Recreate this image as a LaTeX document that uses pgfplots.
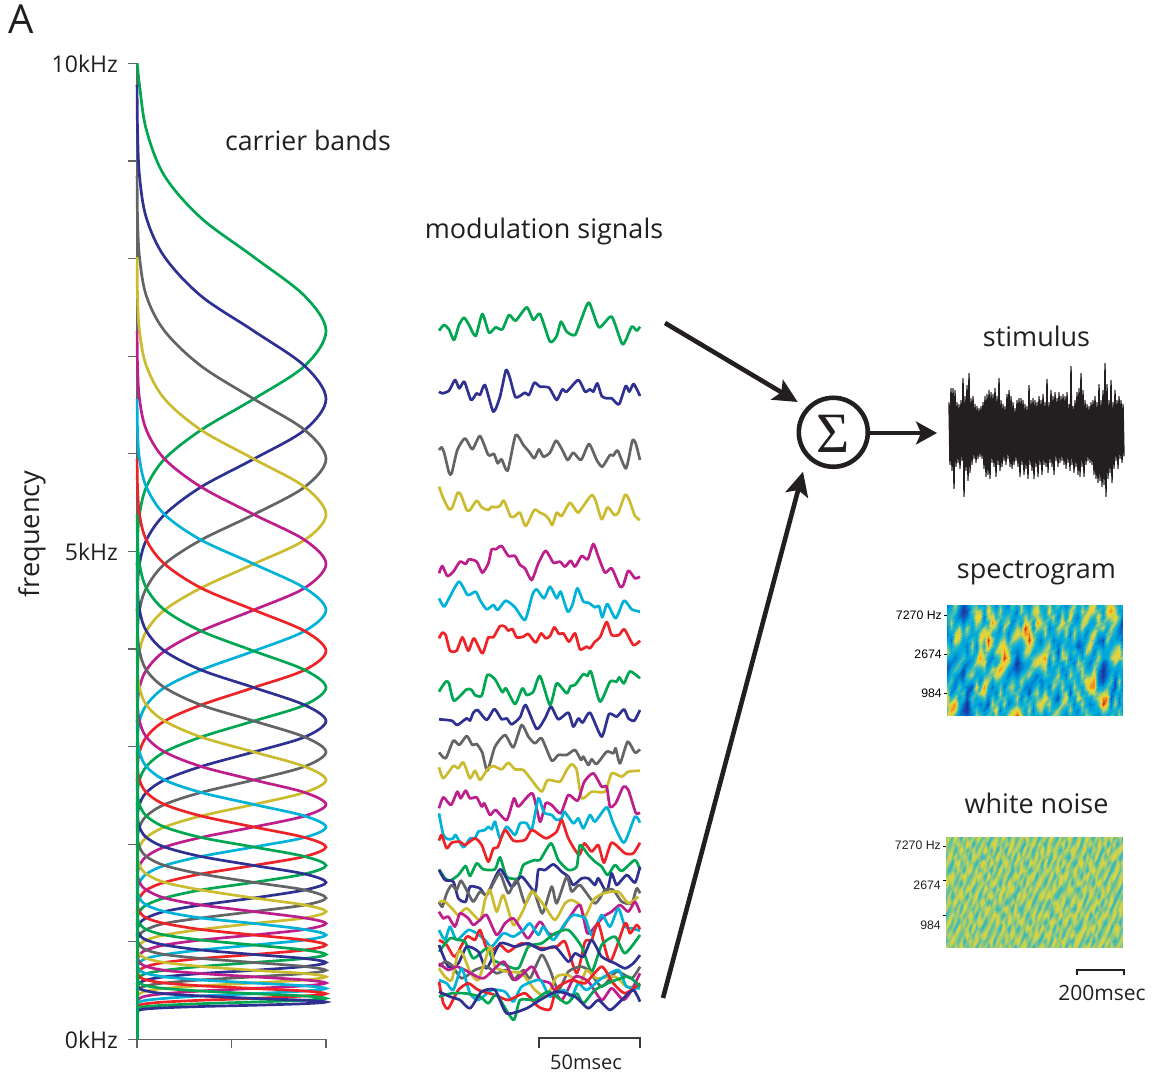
\documentclass[border=0pt]{standalone}
\usepackage{fontspec}
\usepackage{pgfplots}
\usepackage{pgfplotstable}
\pgfplotsset{compat=1.18}
\usetikzlibrary{arrows.meta}
\setmainfont{Open Sans}
\newfontfamily\hel{Liberation Sans}
\newfontfamily\lser{Liberation Serif}
\definecolor{bandg}{RGB}{0,166,81}
\definecolor{bandb}{RGB}{46,49,146}
\definecolor{bandy}{RGB}{99,100,102}
\definecolor{bandl}{RGB}{203,187,46}
\definecolor{bandm}{RGB}{190,30,140}
\definecolor{bandc}{RGB}{0,178,216}
\definecolor{bandr}{RGB}{238,35,40}
\definecolor{tx}{RGB}{35,31,32}
\pgfplotscreateplotcyclelist{bands}{{bandg},{bandb},{bandy},{bandl},{bandm},{bandc},{bandr}}
\pgfplotstableread{
.0005 10.000 9.780 8.847 8.017 7.259 6.563 5.948 5.379 4.872 4.401 3.980 3.606 3.263 2.946 2.659 2.408 2.177 1.972 1.783 1.610 1.450 1.311 1.189 1.071 .968 .871 .789 .709 .642 .579
.0028 9.97 9.319 8.417 7.618 6.901 6.245 5.661 5.118 4.626 4.185 3.786 3.427 3.099 2.797 2.531 2.290 2.070 1.875 1.696 1.532 1.378 1.245 1.127 1.019 .917 .830 .748 .676 .610 .550
.0132 9.780 8.847 8.017 7.259 6.563 5.948 5.379 4.872 4.401 3.980 3.606 3.263 2.946 2.659 2.408 2.177 1.972 1.783 1.610 1.450 1.311 1.189 1.071 .968 .871 .789 .709 .642 .579 .523
.0496 9.319 8.417 7.618 6.901 6.245 5.661 5.118 4.626 4.185 3.786 3.427 3.099 2.797 2.531 2.290 2.070 1.875 1.696 1.532 1.378 1.245 1.127 1.019 .917 .830 .748 .676 .610 .550 .497
.146 8.847 8.017 7.259 6.563 5.948 5.379 4.872 4.401 3.980 3.606 3.263 2.946 2.659 2.408 2.177 1.972 1.783 1.610 1.450 1.311 1.189 1.071 .968 .871 .789 .709 .642 .579 .523 .469
.339 8.417 7.618 6.901 6.245 5.661 5.118 4.626 4.185 3.786 3.427 3.099 2.797 2.531 2.290 2.070 1.875 1.696 1.532 1.378 1.245 1.127 1.019 .917 .830 .748 .676 .610 .550 .497 .446
.618 8.017 7.259 6.563 5.948 5.379 4.872 4.401 3.980 3.606 3.263 2.946 2.659 2.408 2.177 1.972 1.783 1.610 1.450 1.311 1.189 1.071 .968 .871 .789 .709 .642 .579 .523 .469 .421
.887 7.618 6.901 6.245 5.661 5.118 4.626 4.185 3.786 3.427 3.099 2.797 2.531 2.290 2.070 1.875 1.696 1.532 1.378 1.245 1.127 1.019 .917 .830 .748 .676 .610 .550 .497 .446 .402
1 7.259 6.563 5.948 5.379 4.872 4.401 3.980 3.606 3.263 2.946 2.659 2.408 2.177 1.972 1.783 1.610 1.450 1.311 1.189 1.071 .968 .871 .789 .709 .642 .579 .523 .469 .421 .384
.887 6.901 6.245 5.661 5.118 4.626 4.185 3.786 3.427 3.099 2.797 2.531 2.290 2.070 1.875 1.696 1.532 1.378 1.245 1.127 1.019 .917 .830 .748 .676 .610 .550 .497 .446 .402 .367
.618 6.563 5.948 5.379 4.872 4.401 3.980 3.606 3.263 2.946 2.659 2.408 2.177 1.972 1.783 1.610 1.450 1.311 1.189 1.071 .968 .871 .789 .709 .642 .579 .523 .469 .421 .384 .351
.339 6.245 5.661 5.118 4.626 4.185 3.786 3.427 3.099 2.797 2.531 2.290 2.070 1.875 1.696 1.532 1.378 1.245 1.127 1.019 .917 .830 .748 .676 .610 .550 .497 .446 .402 .367 .338
.146 5.948 5.379 4.872 4.401 3.980 3.606 3.263 2.946 2.659 2.408 2.177 1.972 1.783 1.610 1.450 1.311 1.189 1.071 .968 .871 .789 .709 .642 .579 .523 .469 .421 .384 .351 .325
.0496 5.661 5.118 4.626 4.185 3.786 3.427 3.099 2.797 2.531 2.290 2.070 1.875 1.696 1.532 1.378 1.245 1.127 1.019 .917 .830 .748 .676 .610 .550 .497 .446 .402 .367 .338 .313
.0132 5.379 4.872 4.401 3.980 3.606 3.263 2.946 2.659 2.408 2.177 1.972 1.783 1.610 1.450 1.311 1.189 1.071 .968 .871 .789 .709 .642 .579 .523 .469 .421 .384 .351 .325 .302
.0028 5.118 4.626 4.185 3.786 3.427 3.099 2.797 2.531 2.290 2.070 1.875 1.696 1.532 1.378 1.245 1.127 1.019 .917 .830 .748 .676 .610 .550 .497 .446 .402 .367 .338 .313 .292
.0005 4.872 4.401 3.980 3.606 3.263 2.946 2.659 2.408 2.177 1.972 1.783 1.610 1.450 1.311 1.189 1.071 .968 .871 .789 .709 .642 .579 .523 .469 .421 .384 .351 .325 .302 .282
}\carriers
\pgfplotsset{
  sig/.style={smooth,tension=0.38,line width=2.7pt,line join=round,no marks},
  modax/.style={scale only axis,hide axis,clip=false,width=201pt,xmin=42,xmax=645,y dir=reverse,ymin=0},
  colormap={spec}{rgb255=(30,50,150) rgb255=(20,80,185) rgb255=(0,125,205) rgb255=(0,165,220) rgb255=(20,180,205) rgb255=(90,190,165) rgb255=(195,210,85) rgb255=(240,212,45) rgb255=(240,145,35) rgb255=(205,40,35)},
  heat/.style={scale only axis,view={0}{90},y dir=reverse,axis line style={draw=none},xtick=\empty,ztick=\empty,ytick pos=left,tick align=outside,major tick length=3pt,tick style={black,line width=.7pt},colormap name=spec,yticklabel style={font=\hel\fontsize{12.3}{14}\selectfont,inner sep=0pt,xshift=-2pt},enlargelimits=false,clip=true}
}
\begin{document}
\begin{tikzpicture}
\path[use as bounding box] (0pt,0pt) rectangle (1160pt,1078pt);

% carrier bands
\begin{axis}[at={(137pt,38.5pt)},anchor=south west,scale only axis,width=189pt,height=976pt,
  xmin=0,xmax=1,ymin=0,ymax=10,clip=false,
  axis lines*=left,axis line style={draw=bandy,line width=1.4pt},
  tick align=outside,major tick length=9pt,tick style={bandy,line width=1.2pt},
  xtick={0,0.5,1},xticklabels={},
  ytick={0,1,2,3,4,5,6,7,8,9,10},yticklabels={0kHz,,,,,5kHz,,,,,10kHz},
  yticklabel style={font=\fontsize{23}{25}\selectfont,text=tx,inner sep=0pt,xshift=-10pt},
  ylabel={frequency},ylabel style={at={(axis description cs:-0.555,0.518)},anchor=center,font=\fontsize{27.2}{29}\selectfont,text=tx},
  cycle list name=bands]
\pgfplotsinvokeforeach{1,...,30}{\addplot+[smooth,tension=0.55,line width=2.7pt,no marks,solid] table[x index=0,y index=#1]{\carriers};}
\addplot[bandg,line width=2.8pt] coordinates {(0.003,0) (0.003,4.9)};
\end{axis}

% modulation signals
\begin{axis}[modax,at={(439pt,538pt)},anchor=south west,height=250pt,ymax=750]
\addplot[sig,bandg] coordinates {(42,122)(57,105)(72,118)(87,150)(102,105)(117,83)(132,105)(152,138)(172,72)(192,128)(212,112)(232,118)(252,75)(272,92)(305,52)(325,90)(345,72)(375,155)(395,138)(408,95)(425,125)(450,135)(470,85)(492,38)(522,112)(560,80)(593,163)(620,110)(635,122)(645,110)};
\addplot[sig,bandb] coordinates {(42,305)(52,310)(72,302)(90,270)(103,295)(118,275)(138,330)(155,310)(165,315)(180,285)(205,365)(225,320)(243,240)(255,265)(272,322)(300,308)(312,315)(328,278)(345,290)(372,293)(395,330)(412,298)(425,305)(460,270)(480,305)(495,298)(505,305)(517,280)(530,318)(545,325)(560,325)(582,343)(602,288)(613,305)(626,282)(645,318)};
\addplot[sig,bandy] coordinates {(42,480)(50,472)(58,490)(72,548)(80,550)(97,480)(120,445)(142,478)(165,438)(190,495)(207,492)(218,520)(230,508)(248,542)(272,435)(295,465)(312,485)(328,505)(342,478)(355,500)(375,488)(393,452)(412,480)(428,510)(445,488)(468,510)(492,462)(515,510)(532,530)(555,495)(565,497)(578,482)(603,535)(622,452)(632,460)(645,510)};
\addplot[sig,bandl] coordinates {(42,590)(55,625)(72,658)(82,652)(98,608)(108,615)(125,660)(135,660)(155,632)(170,652)(190,660)(200,650)(212,652)(225,648)(237,632)(257,680)(270,678)(285,668)(302,708)(328,660)(345,668)(360,675)(372,688)(382,705)(395,668)(410,678)(435,638)(458,668)(475,648)(500,615)(512,632)(530,688)(548,652)(568,675)(580,668)(600,615)(612,628)(630,678)(645,690)};
\end{axis}
\begin{axis}[modax,at={(439pt,298pt)},anchor=south west,height=250pt,ymax=750]
\addplot[sig,bandm] coordinates {(42,130)(52,108)(67,138)(85,125)(105,95)(122,102)(132,88)(155,95)(172,128)(190,100)(200,58)(212,58)(230,48)(250,78)(270,78)(285,105)(300,115)(320,150)(340,100)(362,62)(385,98)(405,95)(420,110)(437,92)(450,110)(470,78)(488,88)(505,42)(520,80)(540,128)(560,115)(585,170)(595,165)(610,122)(630,145)(645,140)};
\addplot[sig,bandc] coordinates {(42,205)(57,230)(72,205)(102,155)(128,195)(152,185)(165,210)(185,238)(205,225)(218,240)(242,212)(270,232)(300,270)(322,195)(335,178)(357,205)(375,170)(395,205)(407,185)(428,245)(442,225)(457,175)(475,215)(490,218)(510,232)(522,228)(532,262)(547,222)(572,265)(597,212)(620,238)(645,245)};
\addplot[sig,bandr] coordinates {(42,325)(52,308)(62,315)(75,362)(95,362)(112,322)(130,362)(147,325)(172,370)(190,322)(205,322)(225,288)(240,290)(250,302)(262,297)(275,322)(295,320)(310,312)(332,338)(348,310)(362,325)(375,318)(388,292)(402,312)(415,310)(432,335)(450,310)(465,358)(485,350)(495,355)(510,335)(525,322)(545,276)(560,315)(582,315)(598,298)(625,345)(645,332)};
\addplot[sig,bandg] coordinates {(42,485)(62,455)(72,460)(87,512)(125,478)(140,480)(150,495)(170,497)(187,435)(210,448)(232,487)(243,475)(270,522)(292,475)(305,495)(325,485)(345,438)(375,525)(395,460)(425,490)(437,468)(450,465)(475,432)(487,438)(498,425)(525,515)(555,455)(575,455)(583,442)(597,460)(615,424)(645,445)};
\addplot[sig,bandb] coordinates {(42,568)(80,572)(97,585)(125,565)(135,572)(145,548)(158,540)(185,570)(208,537)(230,568)(245,565)(260,583)(285,562)(302,525)(335,597)(360,565)(378,530)(400,568)(430,548)(445,590)(460,565)(473,578)(495,548)(530,620)(552,552)(575,560)(597,538)(610,565)(628,572)(645,540)};
\addplot[sig,bandy] coordinates {(42,667)(62,685)(85,632)(103,645)(125,618)(142,645)(155,642)(172,668)(187,722)(210,650)(240,615)(265,652)(290,585)(310,620)(330,640)(350,625)(380,692)(400,675)(425,675)(450,660)(468,690)(475,680)(490,705)(500,688)(515,702)(545,665)(565,670)(572,655)(585,700)(608,635)(630,668)(645,658)};
\addplot[sig,bandl] coordinates {(42,712)(55,745)(85,708)(100,715)(115,697)(135,745)(150,722)(165,750)(187,718)(205,708)(230,718)(250,698)(270,718)(295,720)(320,750)(350,785)(368,750)(405,755)(425,720)(440,703)(455,720)(470,805)(500,785)(540,785)(560,730)(590,740)(610,725)(645,722)};
\end{axis}
\begin{axis}[modax,at={(439pt,8pt)},anchor=south west,height=300pt,ymax=900]
\addplot[sig,bandm] coordinates {(42,115)(55,82)(78,105)(97,65)(107,85)(122,62)(135,85)(155,82)(170,110)(178,100)(195,135)(212,120)(245,150)(267,85)(280,110)(322,70)(345,155)(362,100)(380,105)(407,130)(430,75)(458,92)(478,35)(505,10)(530,50)(545,50)(555,110)(572,100)(595,50)(610,60)(632,128)(645,128)};
\addplot[sig,bandc] coordinates {(42,130)(55,195)(70,208)(85,205)(92,195)(115,232)(135,205)(150,205)(160,185)(180,180)(190,170)(200,178)(210,155)(225,205)(245,170)(270,195)(285,160)(305,160)(320,180)(340,85)(352,115)(360,130)(380,135)(395,150)(410,145)(418,125)(445,160)(460,145)(475,175)(495,135)(510,155)(545,112)(565,160)(597,218)(630,140)(645,158)};
\addplot[sig,bandr] coordinates {(42,212)(50,195)(65,235)(80,218)(105,215)(120,225)(150,205)(170,225)(190,275)(205,235)(218,232)(240,180)(265,212)(300,210)(320,180)(345,195)(365,205)(395,185)(410,150)(430,205)(462,255)(478,220)(500,245)(520,225)(537,278)(560,218)(600,250)(625,250)(645,218)};
\addplot[sig,bandg] coordinates {(42,298)(60,325)(75,332)(100,315)(122,288)(135,318)(155,280)(175,298)(210,298)(225,262)(245,320)(280,325)(295,285)(330,270)(345,270)(378,220)(400,270)(430,300)(455,290)(465,225)(490,255)(510,275)(530,290)(548,315)(570,285)(590,303)(630,270)(645,300)};
\addplot[sig,bandb] coordinates {(42,300)(60,330)(85,335)(100,385)(122,395)(135,350)(165,355)(185,375)(225,298)(260,350)(290,320)(330,365)(340,300)(360,300)(385,283)(410,305)(430,320)(445,345)(470,325)(490,325)(510,345)(520,325)(545,365)(560,310)(575,345)(605,315)(630,338)(645,290)};
\addplot[sig,bandy] coordinates {(42,395)(52,410)(65,370)(80,345)(95,360)(108,332)(130,370)(145,395)(165,365)(185,375)(205,340)(225,310)(250,370)(275,330)(300,400)(325,360)(352,430)(380,350)(395,400)(425,320)(440,365)(465,345)(510,400)(540,360)(565,360)(590,395)(620,400)(635,355)(645,370)};
\addplot[sig,bandl] coordinates {(42,395)(60,395)(85,420)(100,435)(125,415)(165,450)(180,390)(195,360)(215,425)(235,375)(265,465)(295,420)(320,365)(360,410)(390,450)(420,400)(440,390)(465,405)(480,440)(505,390)(535,370)(580,365)(610,400)(640,380)};
\addplot[sig,bandm] coordinates {(42,425)(55,445)(70,440)(90,470)(105,430)(130,445)(145,465)(165,450)(185,435)(215,495)(240,460)(265,445)(290,480)(310,505)(345,455)(370,490)(400,490)(435,440)(465,405)(487,490)(510,470)(535,440)(560,425)(585,405)(610,425)(630,395)(645,428)};
\addplot[sig,bandc] coordinates {(42,480)(60,510)(75,470)(95,510)(130,480)(155,490)(180,510)(200,530)(235,490)(265,500)(295,480)(315,460)(340,495)(355,470)(385,510)(420,460)(445,435)(480,445)(500,495)(530,435)(555,470)(580,415)(600,470)(620,475)(645,482)};
\addplot[sig,bandr] coordinates {(42,510)(65,525)(90,560)(125,500)(150,510)(165,480)(190,545)(225,525)(250,545)(290,520)(350,535)(395,530)(420,515)(455,610)(480,515)(500,510)(520,460)(555,575)(600,460)(615,490)(635,465)(645,478)};
\addplot[sig,bandg] coordinates {(42,545)(75,505)(100,510)(120,515)(145,565)(185,535)(205,570)(240,585)(280,595)(310,530)(350,520)(390,490)(430,480)(470,530)(500,605)(530,525)(570,500)(600,550)(645,495)};
\addplot[sig,bandb] coordinates {(42,525)(70,590)(100,580)(125,530)(160,545)(185,595)(225,520)(270,530)(310,520)(350,540)(390,530)(430,575)(450,550)(475,560)(500,510)(530,560)(570,580)(600,595)(625,580)(645,555)};
\addplot[sig,bandy] coordinates {(42,590)(60,575)(80,585)(110,625)(150,600)(185,590)(215,610)(245,600)(265,630)(295,600)(315,625)(350,555)(375,600)(400,660)(430,605)(465,590)(490,600)(530,650)(575,605)(620,625)(645,590)};
\addplot[sig,bandl] coordinates {(42,595)(60,620)(80,630)(100,545)(115,555)(135,605)(160,630)(195,530)(210,590)(245,605)(290,610)(330,660)(365,680)(395,620)(430,615)(465,640)(485,600)(515,625)(570,620)(605,650)(645,650)};
\addplot[sig,bandm] coordinates {(42,580)(70,600)(95,590)(120,600)(175,625)(235,575)(270,630)(320,590)(345,630)(375,640)(410,690)(450,620)(490,635)(530,690)(560,655)(595,690)(620,660)(645,610)};
\addplot[sig,bandc] coordinates {(42,630)(65,640)(85,660)(110,595)(135,670)(160,690)(200,660)(240,665)(265,695)(290,650)(345,630)(375,680)(415,660)(440,680)(460,640)(485,660)(530,625)(580,600)(605,650)(645,655)};
\addplot[sig,bandr] coordinates {(42,635)(55,700)(70,715)(100,660)(130,640)(160,660)(210,675)(250,690)(300,670)(340,710)(375,718)(395,655)(440,630)(480,640)(530,590)(565,640)(600,670)(645,640)};
\addplot[sig,bandg] coordinates {(42,680)(80,670)(120,670)(165,680)(190,700)(215,675)(265,750)(285,690)(330,690)(370,665)(425,700)(455,670)(475,700)(510,660)(560,635)(610,620)(645,650)};
\addplot[sig,bandb] coordinates {(42,665)(75,680)(105,690)(135,715)(170,665)(210,660)(245,730)(305,715)(345,690)(395,665)(450,680)(490,715)(520,690)(555,720)(590,690)(625,660)(645,695)};
\end{axis}

% stimulus
\begin{axis}[at={(949pt,567.5pt)},anchor=south west,scale only axis,hide axis,width=175pt,height=160pt,xmin=949,xmax=1124,ymin=-80,ymax=80,clip=false]
\addplot[tx,line width=1.4pt,line join=round,no marks] coordinates {(949,28)(950,-34)(951,42)(952,-40)(953,42)(954,-58)(955,40)(956,-36)(957,28)(958,-32)(959,26)(960,-38)(961,30)(962,-30)(963,52)(964,-66)(965,34)(966,-40)(967,45)(968,-50)(969,57)(970,-42)(971,32)(972,-34)(973,34)(974,-28)(975,26)(976,-32)(977,24)(978,-28)(979,22)(980,-26)(981,24)(982,-28)(983,28)(984,-38)(985,34)(986,-46)(987,36)(988,-44)(989,40)(990,-48)(991,38)(992,-32)(993,36)(994,-36)(995,42)(996,-46)(997,34)(998,-34)(999,52)(1000,-40)(1001,30)(1002,-36)(1003,26)(1004,-30)(1005,24)(1006,-34)(1007,36)(1008,-28)(1009,40)(1010,-36)(1011,34)(1012,-38)(1013,28)(1014,-34)(1015,22)(1016,-30)(1017,30)(1018,-36)(1019,32)(1020,-46)(1021,32)(1022,-34)(1023,30)(1024,-44)(1025,26)(1026,-38)(1027,24)(1028,-48)(1029,45)(1030,-34)(1031,30)(1032,-40)(1033,32)(1034,-48)(1035,30)(1036,-36)(1037,28)(1038,-46)(1039,34)(1040,-34)(1041,30)(1042,-44)(1043,36)(1044,-34)(1045,28)(1046,-36)(1047,51)(1048,-42)(1049,28)(1050,-32)(1051,40)(1052,-36)(1053,34)(1054,-44)(1055,38)(1056,-30)(1057,32)(1058,-36)(1059,38)(1060,-32)(1061,34)(1062,-30)(1063,36)(1064,-34)(1065,34)(1066,-38)(1067,38)(1068,-32)(1069,26)(1070,-40)(1071,64)(1072,-34)(1073,24)(1074,-42)(1075,30)(1076,-36)(1077,38)(1078,-44)(1079,42)(1080,-46)(1081,57)(1082,-36)(1083,40)(1084,-46)(1085,30)(1086,-34)(1087,26)(1088,-30)(1089,24)(1090,-32)(1091,28)(1092,-34)(1093,30)(1094,-44)(1095,34)(1096,-48)(1097,28)(1098,-52)(1099,46)(1100,-50)(1101,30)(1102,-56)(1103,40)(1104,-54)(1105,67)(1106,-66)(1107,46)(1108,-48)(1109,30)(1110,-42)(1111,50)(1112,-52)(1113,28)(1114,-38)(1115,40)(1116,-30)(1117,30)(1118,-38)(1119,34)(1120,-28)(1121,30)(1122,-32)(1123,26)(1124,-26)};
\end{axis}

% spectrogram
\begin{axis}[heat,at={(947pt,362pt)},anchor=south west,width=176pt,height=111pt,xmin=0,xmax=43,ymin=0,ymax=19,point meta min=0,point meta max=9,ytick={1.71,8.39,15.16},yticklabels={7270 Hz,2674,984}]
\addplot3[surf,shader=interp,mesh/ordering=y varies,mesh/rows=20,mesh/cols=44,point meta=\thisrowno{0}] table[row sep=\\,header=false,x expr={floor((\coordindex+0.5)/20)},y expr={mod(\coordindex,20)},z index=0]{
2\\3\\4\\3\\2\\2\\3\\5\\6\\4\\2\\1\\2\\3\\5\\6\\7\\6\\5\\6\\
3\\4\\5\\6\\5\\3\\2\\3\\4\\3\\2\\3\\4\\5\\3\\2\\4\\7\\8\\6\\
6\\5\\3\\3\\4\\6\\7\\5\\3\\2\\3\\5\\3\\2\\2\\4\\6\\8\\7\\4\\
3\\2\\2\\4\\6\\7\\6\\4\\3\\3\\5\\4\\2\\3\\5\\4\\3\\4\\3\\2\\
1\\0\\1\\2\\3\\4\\3\\3\\4\\5\\3\\1\\1\\2\\3\\5\\4\\2\\1\\2\\
2\\1\\2\\4\\6\\5\\3\\2\\2\\3\\2\\3\\5\\4\\2\\1\\1\\0\\0\\1\\
4\\5\\4\\3\\3\\3\\5\\6\\5\\3\\3\\5\\6\\3\\1\\3\\5\\4\\3\\2\\
5\\6\\7\\6\\5\\3\\3\\2\\3\\5\\6\\4\\3\\5\\7\\5\\3\\3\\5\\6\\
3\\6\\7\\5\\4\\6\\7\\6\\7\\8\\6\\4\\3\\2\\4\\6\\4\\2\\3\\5\\
3\\3\\2\\3\\6\\7\\5\\4\\5\\6\\7\\5\\4\\6\\8\\7\\5\\3\\2\\3\\
6\\7\\6\\4\\5\\7\\9\\8\\5\\3\\2\\3\\5\\6\\4\\3\\2\\1\\3\\5\\
4\\5\\7\\8\\6\\4\\6\\5\\3\\2\\4\\6\\5\\3\\2\\3\\5\\6\\5\\3\\
2\\3\\4\\6\\5\\3\\3\\4\\6\\4\\3\\6\\7\\5\\3\\2\\3\\5\\7\\6\\
5\\6\\5\\3\\2\\3\\5\\7\\6\\5\\6\\8\\6\\4\\5\\6\\5\\3\\2\\3\\
3\\3\\4\\5\\6\\5\\6\\7\\8\\9\\7\\6\\4\\3\\2\\3\\5\\6\\4\\3\\
2\\3\\5\\6\\3\\2\\3\\5\\6\\7\\6\\3\\2\\3\\5\\4\\3\\2\\4\\6\\
5\\4\\3\\2\\3\\5\\6\\4\\3\\4\\3\\2\\3\\5\\6\\5\\3\\3\\6\\7\\
3\\2\\3\\5\\6\\7\\5\\3\\2\\1\\0\\1\\2\\3\\3\\5\\6\\5\\7\\9\\
6\\6\\4\\3\\5\\6\\4\\3\\3\\3\\2\\2\\4\\6\\5\\3\\2\\3\\5\\6\\
3\\4\\6\\7\\9\\8\\6\\5\\6\\5\\3\\3\\5\\4\\2\\3\\5\\4\\3\\3\\
2\\3\\4\\6\\7\\8\\9\\7\\6\\4\\3\\5\\6\\3\\2\\1\\3\\5\\6\\5\\
5\\6\\5\\3\\3\\5\\6\\5\\3\\5\\6\\5\\3\\2\\3\\5\\4\\3\\2\\3\\
6\\7\\6\\8\\6\\4\\3\\3\\4\\6\\7\\4\\2\\3\\5\\6\\5\\6\\5\\3\\
3\\4\\5\\6\\5\\3\\2\\3\\5\\7\\6\\5\\3\\2\\2\\3\\5\\7\\6\\4\\
4\\3\\3\\5\\6\\6\\4\\5\\6\\8\\7\\6\\5\\3\\4\\6\\7\\5\\3\\2\\
6\\7\\5\\3\\2\\3\\5\\6\\5\\3\\2\\3\\4\\3\\2\\3\\5\\6\\5\\3\\
3\\4\\6\\5\\3\\3\\2\\3\\5\\6\\5\\3\\3\\5\\6\\4\\3\\3\\4\\6\\
5\\3\\2\\4\\6\\5\\3\\2\\1\\2\\3\\5\\6\\5\\3\\2\\1\\3\\6\\5\\
3\\5\\6\\7\\5\\3\\3\\5\\6\\6\\3\\2\\3\\5\\6\\5\\5\\6\\4\\3\\
2\\3\\3\\5\\6\\6\\4\\3\\5\\6\\5\\3\\2\\3\\3\\6\\7\\5\\3\\2\\
4\\6\\7\\5\\3\\2\\3\\3\\3\\2\\3\\5\\6\\4\\2\\1\\3\\5\\6\\4\\
6\\5\\3\\3\\5\\6\\5\\3\\5\\3\\2\\3\\4\\5\\6\\5\\3\\2\\3\\3\\
3\\3\\2\\3\\4\\3\\2\\1\\3\\5\\6\\5\\3\\3\\4\\6\\7\\4\\2\\3\\
5\\6\\5\\6\\6\\4\\3\\2\\2\\3\\5\\6\\6\\5\\3\\3\\5\\6\\5\\3\\
3\\5\\7\\6\\3\\2\\3\\5\\6\\4\\3\\3\\5\\7\\6\\4\\3\\3\\5\\6\\
6\\7\\5\\3\\3\\5\\6\\7\\5\\3\\2\\3\\5\\7\\8\\6\\3\\2\\3\\5\\
7\\6\\4\\3\\5\\7\\5\\3\\2\\3\\5\\6\\7\\8\\8\\6\\5\\3\\3\\3\\
3\\5\\7\\6\\5\\3\\2\\3\\5\\6\\5\\3\\2\\2\\3\\5\\6\\5\\3\\2\\
4\\3\\3\\5\\6\\3\\1\\2\\3\\3\\1\\0\\0\\1\\3\\6\\8\\9\\6\\4\\
6\\7\\6\\4\\3\\5\\6\\4\\3\\3\\2\\2\\2\\3\\5\\6\\8\\7\\5\\3\\
7\\8\\6\\5\\6\\5\\3\\3\\5\\6\\4\\3\\4\\5\\3\\2\\1\\2\\3\\5\\
5\\6\\7\\6\\4\\3\\3\\5\\6\\7\\6\\3\\2\\1\\1\\3\\5\\6\\4\\3\\
3\\3\\5\\3\\2\\2\\3\\6\\7\\6\\3\\3\\4\\6\\5\\3\\2\\2\\5\\6\\
4\\2\\1\\0\\1\\2\\1\\2\\4\\6\\5\\3\\2\\1\\2\\3\\5\\3\\2\\4\\
};
\end{axis}

% white noise
\begin{axis}[heat,at={(946pt,130pt)},anchor=south west,width=177pt,height=111pt,xmin=0,xmax=59,ymin=0,ymax=17,point meta min=-4.17,point meta max=10.83,ytick={1.38,6.59,11.95},yticklabels={}]
\addplot3[surf,shader=interp,mesh/ordering=y varies,mesh/rows=18,mesh/cols=60,point meta=\thisrowno{0}] table[row sep=\\,header=false,x expr={floor((\coordindex+0.5)/18)},y expr={mod(\coordindex,18)},z index=0]{
5\\6\\5\\4\\6\\5\\5\\7\\5\\4\\5\\6\\3\\5\\6\\5\\4\\6\\
6\\4\\5\\7\\5\\3\\6\\5\\4\\6\\6\\4\\5\\7\\4\\6\\5\\5\\
4\\5\\6\\5\\3\\5\\7\\6\\5\\3\\5\\5\\6\\4\\5\\5\\7\\4\\
7\\5\\3\\6\\6\\4\\5\\4\\6\\5\\7\\4\\5\\6\\3\\6\\5\\6\\
5\\6\\5\\4\\7\\6\\4\\5\\5\\6\\4\\6\\5\\3\\7\\5\\4\\5\\
3\\5\\7\\5\\4\\5\\6\\3\\6\\7\\5\\3\\6\\5\\5\\4\\6\\7\\
6\\4\\5\\6\\5\\3\\7\\6\\4\\5\\5\\7\\4\\6\\5\\5\\3\\5\\
5\\7\\4\\5\\6\\6\\5\\4\\7\\3\\6\\5\\5\\4\\6\\7\\5\\4\\
4\\6\\5\\3\\5\\7\\4\\5\\6\\6\\4\\5\\7\\6\\3\\5\\6\\5\\
6\\3\\6\\7\\5\\4\\5\\7\\3\\5\\6\\4\\5\\5\\7\\4\\5\\6\\
5\\5\\4\\6\\3\\6\\6\\4\\5\\7\\5\\6\\3\\5\\4\\6\\7\\3\\
7\\4\\6\\5\\5\\4\\7\\5\\6\\3\\5\\4\\6\\7\\5\\5\\4\\6\\
4\\6\\5\\3\\7\\5\\5\\6\\4\\5\\7\\5\\4\\6\\3\\6\\5\\5\\
5\\5\\7\\4\\6\\6\\3\\5\\7\\4\\5\\6\\6\\3\\5\\7\\4\\6\\
6\\3\\5\\6\\4\\5\\7\\4\\5\\6\\3\\7\\5\\5\\6\\4\\5\\3\\
3\\6\\4\\5\\7\\3\\5\\6\\5\\7\\4\\5\\5\\6\\4\\5\\7\\6\\
5\\7\\6\\4\\5\\6\\4\\7\\3\\5\\6\\5\\7\\4\\5\\6\\3\\5\\
6\\5\\3\\7\\5\\4\\6\\5\\6\\4\\5\\3\\6\\7\\5\\4\\6\\5\\
4\\5\\6\\5\\3\\7\\5\\3\\5\\7\\6\\4\\5\\5\\3\\6\\5\\7\\
7\\4\\5\\6\\6\\4\\5\\6\\7\\4\\5\\6\\3\\6\\7\\5\\4\\5\\
5\\6\\3\\5\\7\\5\\6\\4\\5\\6\\3\\7\\5\\4\\5\\6\\6\\4\\
3\\5\\7\\4\\5\\6\\3\\7\\6\\5\\4\\5\\6\\7\\3\\5\\5\\6\\
6\\7\\5\\6\\4\\3\\5\\5\\7\\4\\6\\3\\5\\5\\6\\7\\4\\5\\
5\\4\\6\\3\\6\\5\\7\\4\\5\\3\\5\\7\\6\\4\\5\\5\\6\\3\\
4\\6\\5\\7\\5\\4\\6\\5\\3\\7\\5\\4\\6\\6\\3\\5\\7\\5\\
6\\5\\3\\5\\6\\7\\4\\6\\5\\5\\6\\3\\4\\7\\5\\6\\4\\6\\
5\\3\\7\\5\\4\\6\\5\\3\\6\\7\\4\\5\\6\\5\\5\\3\\6\\7\\
7\\6\\4\\6\\3\\5\\5\\7\\4\\5\\6\\6\\3\\5\\7\\4\\5\\4\\
4\\5\\6\\5\\7\\3\\6\\5\\6\\4\\7\\5\\5\\3\\6\\6\\4\\5\\
5\\7\\3\\4\\6\\5\\7\\4\\5\\6\\3\\5\\7\\6\\4\\5\\6\\3\\
6\\4\\5\\7\\5\\6\\3\\5\\7\\3\\5\\6\\4\\5\\6\\7\\5\\5\\
3\\6\\5\\4\\6\\5\\5\\7\\4\\6\\5\\3\\7\\5\\4\\6\\3\\6\\
5\\5\\7\\6\\3\\4\\6\\5\\5\\7\\4\\6\\5\\5\\7\\3\\5\\7\\
6\\3\\4\\5\\7\\6\\5\\3\\6\\5\\6\\4\\7\\3\\5\\6\\4\\5\\
4\\6\\7\\5\\3\\6\\4\\6\\5\\7\\3\\5\\6\\5\\4\\7\\6\\4\\
7\\5\\5\\3\\6\\5\\7\\4\\5\\6\\5\\4\\3\\7\\6\\5\\3\\6\\
5\\4\\6\\7\\4\\5\\3\\6\\7\\4\\6\\5\\5\\6\\3\\5\\7\\5\\
3\\6\\5\\5\\6\\7\\5\\4\\5\\3\\6\\7\\4\\5\\6\\4\\5\\6\\
6\\5\\3\\6\\4\\5\\6\\7\\3\\5\\5\\6\\7\\3\\5\\6\\5\\4\\
4\\7\\5\\5\\7\\3\\6\\5\\4\\6\\7\\4\\5\\6\\5\\3\\7\\6\\
5\\3\\6\\4\\5\\6\\7\\4\\5\\5\\3\\6\\5\\7\\4\\6\\5\\3\\
7\\6\\5\\3\\6\\5\\4\\6\\7\\5\\4\\5\\6\\3\\6\\5\\4\\7\\
5\\4\\7\\6\\4\\5\\5\\3\\6\\5\\7\\4\\6\\5\\5\\7\\3\\5\\
3\\5\\6\\5\\3\\7\\6\\5\\4\\6\\5\\3\\7\\6\\4\\5\\6\\6\\
6\\7\\4\\5\\6\\4\\5\\7\\3\\5\\6\\7\\4\\5\\3\\6\\7\\4\\
5\\3\\5\\6\\7\\5\\3\\6\\5\\4\\7\\5\\6\\3\\5\\7\\4\\5\\
4\\6\\7\\3\\5\\5\\6\\4\\7\\6\\3\\5\\5\\6\\7\\4\\5\\6\\
7\\5\\4\\6\\5\\3\\7\\5\\5\\3\\6\\4\\7\\5\\5\\6\\3\\7\\
5\\6\\3\\5\\7\\6\\4\\5\\6\\7\\4\\6\\3\\5\\6\\4\\6\\5\\
3\\5\\6\\4\\5\\7\\5\\3\\6\\5\\5\\7\\5\\4\\7\\5\\3\\6\\
6\\4\\5\\7\\3\\5\\6\\6\\4\\5\\7\\3\\6\\5\\4\\6\\5\\5\\
5\\7\\6\\3\\5\\6\\4\\7\\5\\3\\6\\5\\4\\7\\6\\3\\5\\7\\
4\\5\\3\\6\\7\\4\\5\\5\\6\\7\\3\\5\\6\\5\\4\\5\\7\\3\\
6\\6\\5\\4\\6\\5\\7\\3\\5\\5\\6\\4\\7\\3\\5\\6\\5\\6\\
5\\3\\7\\5\\4\\6\\3\\6\\7\\4\\5\\6\\5\\5\\7\\4\\6\\4\\
7\\5\\4\\6\\5\\3\\6\\5\\4\\6\\7\\3\\5\\6\\3\\5\\5\\7\\
4\\6\\5\\7\\3\\5\\7\\4\\5\\5\\3\\6\\7\\4\\6\\5\\3\\5\\
5\\3\\6\\5\\6\\7\\4\\5\\6\\3\\6\\5\\4\\5\\7\\6\\4\\6\\
6\\5\\7\\3\\5\\4\\6\\7\\3\\5\\5\\7\\6\\3\\5\\4\\6\\5\\
3\\6\\4\\5\\7\\6\\5\\3\\6\\4\\7\\5\\5\\6\\4\\7\\5\\4\\
};
\end{axis}

% texts
\node[anchor=base west,inner sep=0pt,font=\fontsize{40}{42}\selectfont,text=tx] at (8pt,1044pt) {A};
\node[anchor=center,inner sep=0pt,font=\fontsize{26.7}{28}\selectfont,text=tx] at (308pt,937pt) {carrier bands};
\node[anchor=center,inner sep=0pt,font=\fontsize{27}{29}\selectfont,text=tx] at (544pt,846pt) {modulation signals};
\node[anchor=center,inner sep=0pt,font=\fontsize{27}{29}\selectfont,text=tx] at (1036.5pt,741.5pt) {stimulus};
\node[anchor=center,inner sep=0pt,font=\fontsize{27}{29}\selectfont,text=tx] at (1036.5pt,505.5pt) {spectrogram};
\node[anchor=center,inner sep=0pt,font=\fontsize{27}{29}\selectfont,text=tx] at (1036.5pt,274.5pt) {white noise};
\node[anchor=center,inner sep=0pt,font=\fontsize{20}{22}\selectfont,text=tx] at (586pt,16pt) {50msec};
\node[anchor=center,inner sep=0pt,font=\fontsize{21}{23}\selectfont,text=tx] at (1102pt,85pt) {200msec};
\node[anchor=east,inner sep=0pt,font=\hel\fontsize{12.3}{14}\selectfont,text=tx] at (941pt,233pt) {7270 Hz};
\node[anchor=east,inner sep=0pt,font=\hel\fontsize{12.3}{14}\selectfont,text=tx] at (941pt,193pt) {2674};
\node[anchor=east,inner sep=0pt,font=\hel\fontsize{12.3}{14}\selectfont,text=tx] at (941pt,153pt) {984};

% scale bars
\draw[bandy!60!black,line width=1.3pt] (539pt,30pt)--(539pt,40pt)--(640pt,40pt)--(640pt,30pt);
\draw[tx,line width=1.3pt] (1077pt,103pt)--(1077pt,108pt)--(1124pt,108pt)--(1124pt,103pt);

% summation and arrows
\draw[tx,line width=4.6pt] (833.3pt,645.7pt) circle (34.5pt);
\node[inner sep=0pt,font=\lser\fontsize{57}{60}\selectfont,text=tx] at (833.3pt,644.5pt) {Σ};
\draw[tx,line width=4.6pt,-{Stealth[length=24pt,width=23pt,inset=5pt]}] (665pt,755pt)--(797.7pt,676pt);
\draw[tx,line width=4.6pt,-{Stealth[length=24pt,width=23pt,inset=5pt]}] (663pt,80pt)--(803pt,606.3pt);
\draw[tx,line width=3.6pt,-{Stealth[length=21pt,width=23pt,inset=5pt]}] (868pt,645pt)--(937pt,645pt);
\end{tikzpicture}
\end{document}
